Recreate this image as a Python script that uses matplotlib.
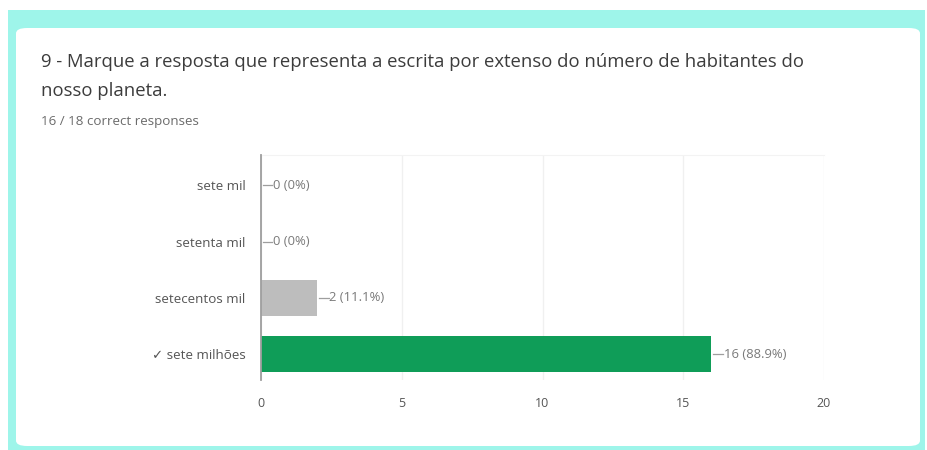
import matplotlib.pyplot as plt
from matplotlib.patches import FancyBboxPatch, Rectangle

# Responses per option (Google Forms quiz summary)
options = ['sete mil', 'setenta mil', 'setecentos mil', '✓ sete milhões']
counts = [0, 0, 2, 16]
total = 18
bar_colors = ['#bdbdbd', '#bdbdbd', '#bdbdbd', '#0f9d58']
x_ticks = [0, 5, 10, 15, 20]

plt.rcParams['font.family'] = ['Open Sans', 'DejaVu Sans']

fig = plt.figure(figsize=(9.28, 4.5), dpi=100)
fig.patch.set_facecolor('white')

# cyan frame and white card
fig.patches.append(Rectangle((8 / 928, 0), 917 / 928, 440 / 450,
                             transform=fig.transFigure, facecolor='#9ef5ea',
                             edgecolor='none', zorder=0))
fig.patches.append(FancyBboxPatch((16 / 928, 4 / 450), 904 / 928, 418 / 450,
                                  boxstyle='round,pad=0,rounding_size=0.012',
                                  transform=fig.transFigure, facecolor='white',
                                  edgecolor='none', zorder=1))

fig.text(41 / 928, 1 - 62 / 450,
         '9 - Marque a resposta que representa a escrita por extenso do número de habitantes do',
         fontsize=13.3, color='#3c3c3c', va='center', ha='left')
fig.text(41 / 928, 1 - 91 / 450, 'nosso planeta.', fontsize=13.3, color='#3c3c3c',
         va='center', ha='left')
fig.text(41 / 928, 1 - 121 / 450, '16 / 18 correct responses', fontsize=9.6,
         color='#6b6b6b', va='center', ha='left')

ax = fig.add_axes([261 / 928, 1 - 380 / 450, 563 / 928, 225 / 450])
ax.set_facecolor('none')
ax.set_zorder(2)

y = list(range(len(options)))
ax.barh(y, counts, height=0.63, color=bar_colors, zorder=2)

for yi, c in zip(y, counts):
    pct = c / total * 100
    label = f'{c} ({pct:.1f}%)' if c % total else f'{c} ({pct:.0f}%)'
    ax.plot([c + 0.06, c + 0.4], [yi, yi], color='#9e9e9e', lw=0.9, zorder=3)
    ax.text(c + 0.43, yi, label, va='center', ha='left', fontsize=9.4, color='#7a7a7a')

ax.set_xlim(0, 20)
ax.set_ylim(3.46, -0.54)
ax.set_xticks(x_ticks)
ax.set_yticks(y)
ax.set_yticklabels(options)
ax.grid(axis='x', color='#f0f0f0', lw=1.0, zorder=0)
ax.tick_params(axis='y', length=0, labelsize=9.6, colors='#555555', pad=11)
ax.tick_params(axis='x', length=0, labelsize=9, colors='#555555', pad=12)
for side in ['right', 'bottom']:
    ax.spines[side].set_visible(False)
ax.spines['top'].set_color('#f3f3f3')
ax.spines['left'].set_color('#9e9e9e')
ax.spines['left'].set_linewidth(1.3)
ax.spines['left'].set_zorder(4)

fig.savefig('out.png', dpi=100)
